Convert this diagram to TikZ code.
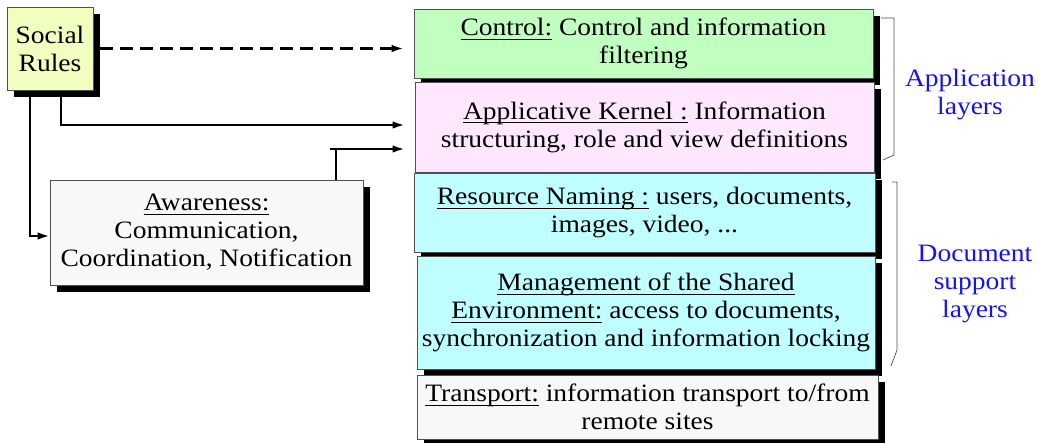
\documentclass[tikz,border=0pt]{standalone}
\usepackage{fontspec}
\setmainfont{Liberation Serif}[FakeStretch=1.1]
\usetikzlibrary{arrows.meta,shadows,calc}

\definecolor{rulesfill}{RGB}{240,255,192}
\definecolor{ctrlfill}{RGB}{192,255,192}
\definecolor{kernfill}{RGB}{255,232,255}
\definecolor{docfill}{RGB}{192,255,255}
\definecolor{plainfill}{RGB}{248,248,248}
\definecolor{edge}{RGB}{80,80,80}
\definecolor{layerblue}{RGB}{20,20,235}

% underline sitting at a fixed distance under the baseline
\newcommand\ulin[1]{\leavevmode\vtop{\setbox0\hbox{#1}\dp0=0pt \box0 \kern3.2pt \hrule height 0.8pt}}

\begin{document}
\begin{tikzpicture}[x=1pt,y=-1pt,
  txt/.style={font=\fontsize{25}{28}\selectfont, align=center},
  layerbox/.style={txt, draw=edge, line width=0.7pt, inner sep=0pt, rectangle,
    drop shadow={shadow xshift=7pt, shadow yshift=-7pt, fill=black, opacity=1}},
  conn/.style={line width=2.2pt},
  arr/.style={conn, -{Latex[length=12pt,width=7.5pt]}},
  brace/.style={draw=black!70, line width=0.7pt},
  layerlabel/.style={txt, text=layerblue}]
\useasboundingbox (0,0) rectangle (1039,442);

% bend points of the routed connectors
\coordinate (bend) at (336,149);
\coordinate (stub) at (330,149);
\coordinate (drop1) at (61,125);
\coordinate (drop2) at (30,236);

% protocol stack
\node[layerbox, fill=ctrlfill, minimum width=459pt, minimum height=69pt] (ctrl) at (643.5,43.5)
  {\ulin{Control:} Control and information\\filtering};
\node[layerbox, fill=kernfill, minimum width=459pt, minimum height=90pt] (kern) at (644.5,127)
  {\ulin{Applicative Kernel :} Information\\structuring, role and view definitions};
\node[layerbox, fill=docfill, minimum width=461pt, minimum height=79pt] (res) at (644.5,212.5)
  {\ulin{Resource Naming :} users, documents,\\images, video, ...};
\node[layerbox, fill=docfill, minimum width=458pt, minimum height=113pt] (mgmt) at (646,312.5)
  {\ulin{Management of the Shared}\\\ulin{Environment:} access to documents,\\synchronization and information locking};
\node[layerbox, fill=plainfill, minimum width=461pt, minimum height=64pt] (trans) at (647.5,407)
  {\ulin{Transport:} information transport to/from\\remote sites};

% left-hand boxes
\node[layerbox, fill=rulesfill, minimum width=86pt, minimum height=83pt] (rules) at (50,48.5)
  {Social\\Rules};
\node[layerbox, fill=plainfill, minimum width=313pt, minimum height=105pt] (aw) at (206.5,232.5)
  {\ulin{Awareness:}\\Communication,\\Coordination, Notification};

% arrows into the stack
\draw[arr, dash pattern=on 13pt off 7pt, shorten >=10pt]
  ([xshift=7pt]rules.east) -- (rules.east -| ctrl.west);
\draw[arr, shorten >=10pt] ([yshift=-7pt]rules.south -| drop1) |- (drop1 -| kern.west);
\draw[arr] ([yshift=-7pt]rules.south -| drop2) |- (drop2 -| aw.west);
\draw[conn] (aw.north -| bend) -- (bend);
\draw[arr, shorten >=10pt] (stub) -- (stub -| kern.west);

% layer groupings
\coordinate (appTop) at (881,18);
\coordinate (appBot) at (883,160);
\draw[brace] (appTop) -- (894,18) -- (894,155) -- (appBot);
\coordinate (docTop) at (892,182);
\coordinate (docBot) at (891,366);
\draw[brace] (docTop) -- (897,182) -- (897,350) -- (docBot);

\node[layerlabel] (applbl) at (970,95) {Application\\layers};
\node[layerlabel] (doclbl) at (975,284) {Document\\support\\layers};
\end{tikzpicture}
\end{document}
